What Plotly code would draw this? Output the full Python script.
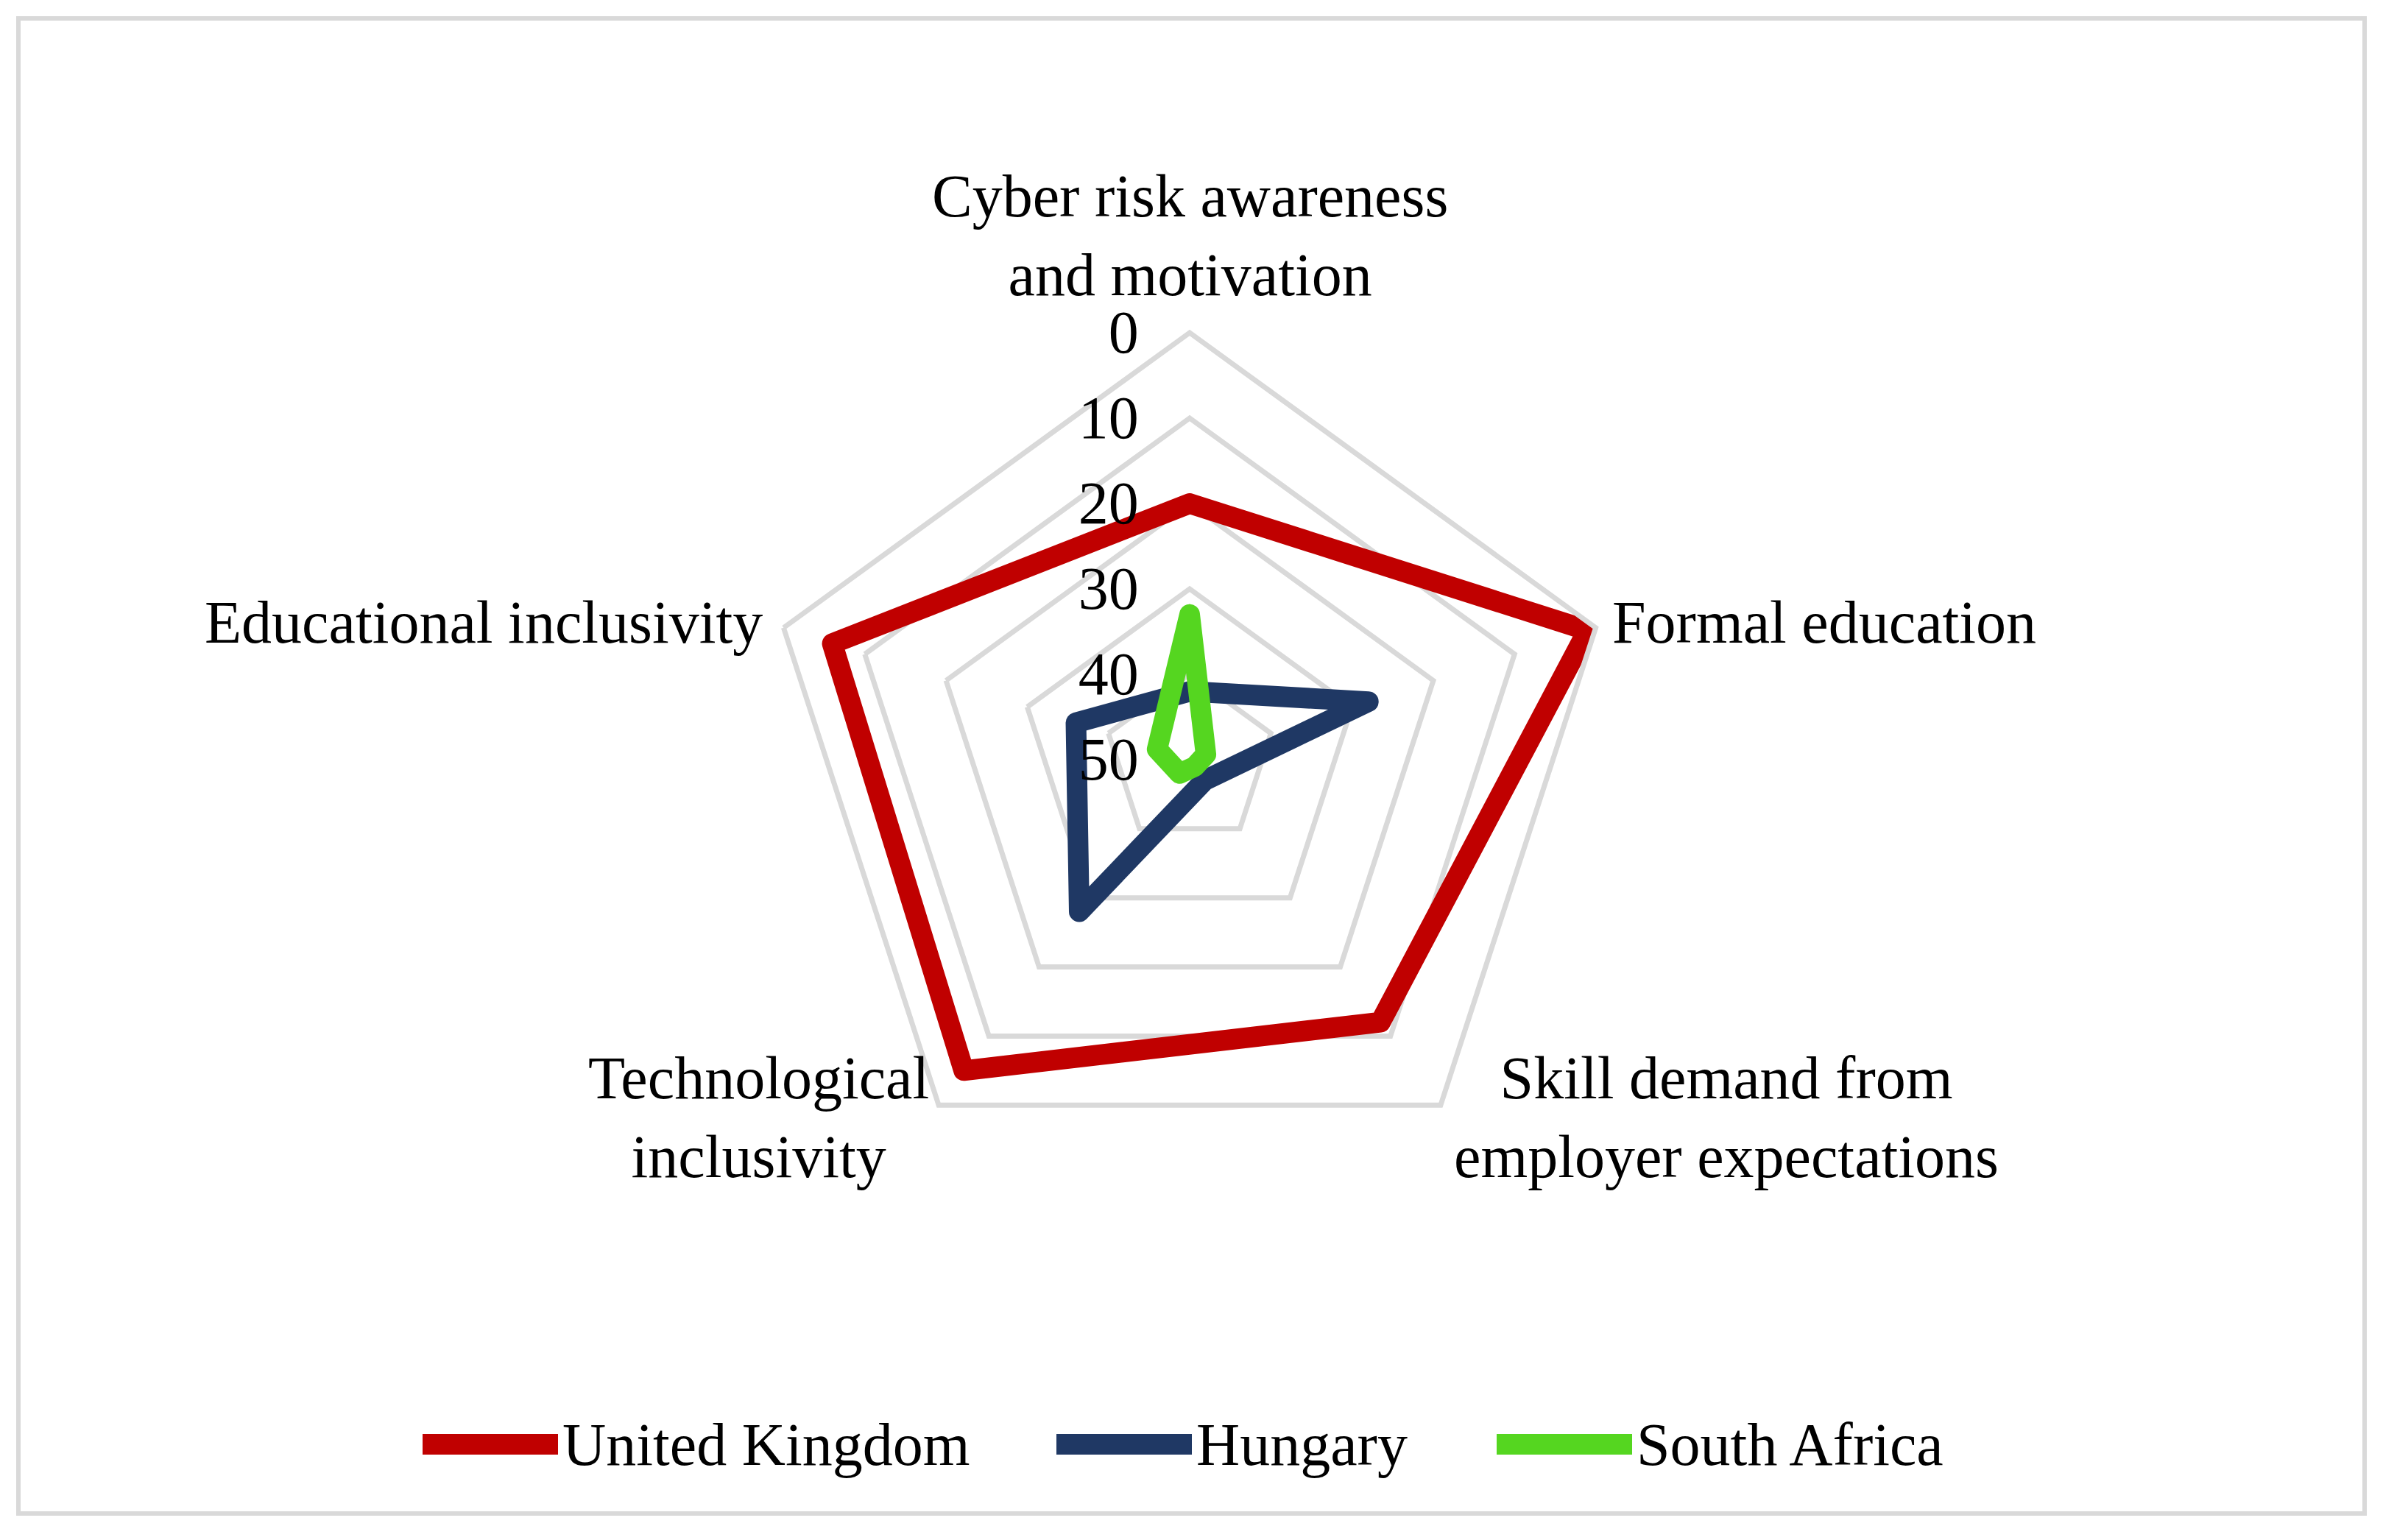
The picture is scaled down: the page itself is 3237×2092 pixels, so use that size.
import plotly.graph_objects as go

# axis categories (clockwise from the top) and their printed labels
categories = ["Cyber risk awareness and motivation", "Formal education",
              "Skill demand from employer expectations", "Technological inclusivity",
              "Educational inclusivity"]
category_labels = ["Cyber risk awareness<br>and motivation", "Formal education",
                   "Skill demand from<br>employer expectations", "Technological<br>inclusivity",
                   "Educational inclusivity"]

countries = ["United Kingdom", "Hungary", "South Africa"]
uk_scores = [20, 1, 12, 5, 6]
hungary_scores = [42, 28, 47, 28, 36]
south_africa_scores = [33, 48, 49, 48, 46]
radial_ticks = [0, 10, 20, 30, 40, 50]

colors = ["#C00000", "#1F3864", "#55D620"]
W, H = 3237, 2092
FONT = "Liberation Serif"
FS = 82


def px(x, y):
    """pixel (from top-left) -> paper coords"""
    return x / W, 1 - y / H


fig = go.Figure()
for name, scores, color in zip(countries, [uk_scores, hungary_scores, south_africa_scores], colors):
    fig.add_trace(go.Scatterpolar(
        r=scores + scores[:1],
        theta=categories + categories[:1],
        mode="lines",
        name=name,
        line=dict(color=color, width=28),
        showlegend=False,
    ))

# polar area: centre (1616, 1032), radius 580 px
cx, cy, R = 1616, 1032, 580
fig.update_layout(
    width=W, height=H,
    margin=dict(l=0, r=0, t=0, b=0),
    paper_bgcolor="white",
    plot_bgcolor="white",
    font=dict(family=FONT, size=FS, color="black"),
    polar=dict(
        domain=dict(x=[(cx - R) / W, (cx + R) / W], y=[1 - (cy + R) / H, 1 - (cy - R) / H]),
        bgcolor="white",
        gridshape="linear",
        radialaxis=dict(
            range=[50, 0],
            tickvals=radial_ticks,
            angle=90,
            tickangle=90,
            side="counterclockwise",
            showline=False,
            ticks="outside",
            ticklen=40,
            tickcolor="rgba(0,0,0,0)",
            gridcolor="#D9D9D9",
            gridwidth=7,
            tickfont=dict(family=FONT, size=FS),
        ),
        angularaxis=dict(
            rotation=90,
            direction="clockwise",
            categoryorder="array",
            categoryarray=categories,
            showgrid=False,
            showticklabels=False,
            showline=True,
            linecolor="#D9D9D9",
            linewidth=7,
            ticks="",
        ),
    ),
)

# category labels around the pentagon (pixel anchor, xanchor)
label_pos = [(1616, 320, "center"), (2188, 846, "left"), (2345, 1518, "center"),
             (1030, 1518, "center"), (1038, 846, "right")]
for text, (x, y, anchor) in zip(category_labels, label_pos):
    xp, yp = px(x, y)
    fig.add_annotation(xref="paper", yref="paper", x=xp, y=yp, text=text,
                       showarrow=False, xanchor=anchor, yanchor="middle", align="center",
                       font=dict(family=FONT, size=FS, color="black"))

# outer chart border
fig.add_shape(type="rect", xref="paper", yref="paper",
              x0=25 / W, x1=3212 / W, y0=1 - 2056 / H, y1=1 - 25 / H,
              line=dict(color="#D9D9D9", width=6), fillcolor="rgba(0,0,0,0)")

# legend drawn by hand: long thick line swatches
legend_x = [574, 1435, 2033]
legend_y = 1962
swatch = 184
for name, color, x0 in zip(countries, colors, legend_x):
    xa, ya = px(x0, legend_y)
    xb, _ = px(x0 + swatch, legend_y)
    fig.add_shape(type="line", xref="paper", yref="paper", x0=xa, x1=xb, y0=ya, y1=ya,
                  line=dict(color=color, width=28))
    fig.add_annotation(xref="paper", yref="paper", x=xb + 4 / W, y=ya, text=name,
                       showarrow=False, xanchor="left", yanchor="middle",
                       font=dict(family=FONT, size=FS, color="black"))

# no page margin, rounded joins/caps like the Excel original
post = """
document.body.style.margin = '0';
document.querySelectorAll('.scatterlayer path.js-line').forEach(function (p) {
    p.style.strokeLinejoin = 'round';
    p.style.strokeLinecap = 'round';
});
"""
fig.write_html("out.html", post_script=post, config={"displayModeBar": False})
